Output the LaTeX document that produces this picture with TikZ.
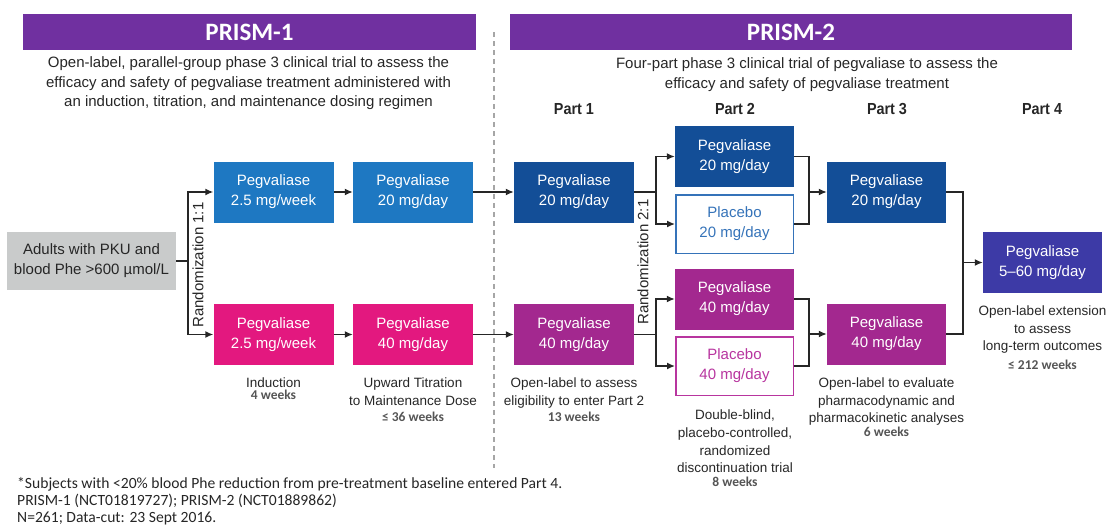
\documentclass[tikz,border=0pt]{standalone}
\usepackage{fontspec}
\setmainfont{Liberation Sans}
\newfontfamily\calfont{Carlito}
\newfontfamily\partfont{Liberation Sans}[FakeStretch=0.9]
\usetikzlibrary{arrows.meta}
\definecolor{hdr}{HTML}{7030A0}
\definecolor{bluea}{HTML}{1E78C2}
\definecolor{blued}{HTML}{134E97}
\definecolor{pinka}{HTML}{E3187F}
\definecolor{purpm}{HTML}{A3288F}
\definecolor{indig}{HTML}{3D3AA6}
\definecolor{grayb}{HTML}{C9CBCB}
\definecolor{txt}{HTML}{262626}
\definecolor{wk}{HTML}{555555}
\definecolor{plb}{HTML}{3573B9}
\definecolor{plm}{HTML}{B8359F}
\definecolor{dashc}{HTML}{A6A6A6}
\begin{document}
\begin{tikzpicture}[x=1pt,y=-1pt,
  box/.style={minimum width=120pt,minimum height=61pt,inner sep=0pt,align=center,text=white,font=\fontsize{15}{20}\selectfont},
  hdrbar/.style={fill=hdr,minimum height=36pt,inner sep=0pt,text=white,font=\calfont\bfseries\fontsize{25}{30}\selectfont},
  lbl/.style={align=center,text=txt,inner sep=0pt,font=\fontsize{13.5}{18}\selectfont,anchor=north},
  wks/.style={text=wk,inner sep=0pt,font=\calfont\bfseries\fontsize{13.5}{15}\selectfont},
  part/.style={text=txt,inner sep=0pt,font=\partfont\bfseries\fontsize{16}{18}\selectfont},
  desc/.style={align=center,text=txt,inner sep=0pt,font=\fontsize{15}{19.5}\selectfont,anchor=north},
  conn/.style={line width=1.4pt,draw=txt},
  arr/.style={conn,-{Latex[length=8pt,width=7pt]}},
  rnd/.style={rotate=90,text=txt,inner sep=0pt,font=\fontsize{15}{18}\selectfont},
  fn/.style={anchor=base west,inner sep=0pt,text=txt,font=\calfont\fontsize{15.6}{17}\selectfont}
]
\useasboundingbox (0,0) rectangle (1107,525);
% headers
\node[hdrbar,minimum width=453pt] (h1) at (249.5,32) {PRISM-1};
\node[hdrbar,minimum width=562pt] (h2) at (791,32) {PRISM-2};
\node[desc] (d1txt) at (248.5,56.5) {Open-label, parallel-group phase 3 clinical trial to assess the\\efficacy and safety of pegvaliase treatment administered with\\an induction, titration, and maintenance dosing regimen};
\node[desc] (d2txt) at (807,57.5) {Four-part phase 3 clinical trial of pegvaliase to assess the\\efficacy and safety of pegvaliase treatment};
% dashed divider
\coordinate (dv1) at (494,32);
\coordinate (dv2) at (494,468);
\draw[dashc,line width=1.2pt,dash pattern=on 5pt off 4pt] (dv1) -- (dv2);
% part labels
\node[part] (pt1) at (574,109) {Part 1};
\node[part] (pt2) at (735,109) {Part 2};
\node[part] (pt3) at (887,109) {Part 3};
\node[part] (pt4) at (1042,109) {Part 4};
% boxes
\node[box,fill=grayb,text=txt,minimum width=169pt,minimum height=58pt] (adults) at (91.5,261) {Adults with PKU and\\blood Phe >600 µmol/L};
\node[box,fill=bluea] (b1) at (273.5,192) {Pegvaliase\\2.5 mg/week};
\node[box,fill=pinka] (p1) at (273.5,334.5) {Pegvaliase\\2.5 mg/week};
\node[box,fill=bluea] (b2) at (413,192) {Pegvaliase\\20 mg/day};
\node[box,fill=pinka] (p2) at (413,334.5) {Pegvaliase\\40 mg/day};
\node[box,fill=blued] (c1) at (574,192) {Pegvaliase\\20 mg/day};
\node[box,fill=purpm] (m1) at (574,334.5) {Pegvaliase\\40 mg/day};
\node[box,fill=blued,minimum width=119pt] (c2) at (734.5,156.5) {Pegvaliase\\20 mg/day};
\node[box,fill=white,draw=plb,line width=1.5pt,text=plb,minimum width=117.5pt,minimum height=58.5pt] (pl20) at (734.5,224) {Placebo\\20 mg/day};
\node[box,fill=purpm,minimum width=119pt] (m2) at (734.5,299) {Pegvaliase\\40 mg/day};
\node[box,fill=white,draw=plm,line width=1.5pt,text=plm,minimum width=117.5pt,minimum height=58.5pt] (pl40) at (734.5,366) {Placebo\\40 mg/day};
\node[box,fill=blued,minimum width=119pt] (c3) at (886.5,192) {Pegvaliase\\20 mg/day};
\node[box,fill=purpm,minimum width=119pt] (m3) at (886.5,334) {Pegvaliase\\40 mg/day};
\node[box,fill=indig,minimum width=119pt] (p4) at (1042.5,262.5) {Pegvaliase\\5–60 mg/day};
% randomization labels
\node[rnd] (r1) at (198,265) {Randomization 1:1};
\node[rnd] (r2) at (643,262) {Randomization 2:1};
% connectors
\coordinate (j1) at (188,261);
\draw[conn] (adults.east) -- (j1);
\draw[arr] (j1) |- (b1.west);
\draw[arr] (j1) |- (p1.west);
\draw[arr] (b1) -- (b2);
\draw[arr] (p1) -- (p2);
\draw[arr] (b2) -- (c1);
\draw[arr] (p2) -- (m1);
\coordinate (j2) at (656,192);
\coordinate (j3) at (656,334.5);
\draw[conn] (c1.east) -- (j2);
\draw[arr] (j2) |- (c2.west);
\draw[arr] (j2) |- (pl20.west);
\draw[conn] (m1.east) -- (j3);
\draw[arr] (j3) |- (m2.west);
\draw[arr] (j3) |- (pl40.west);
\coordinate (k1) at (809,192);
\coordinate (k2) at (809,334);
\draw[conn] (c2.east) -| (k1);
\draw[conn] (pl20.east) -| (k1);
\draw[arr] (k1) -- (c3.west);
\draw[conn] (m2.east) -| (k2);
\draw[conn] (pl40.east) -| (k2);
\draw[arr] (k2) -- (m3.west);
\coordinate (k3) at (963,262.5);
\draw[conn] (c3.east) -| (k3);
\draw[conn] (m3.east) -| (k3);
\draw[arr] (k3) -- (p4.west);
% phase labels
\node[lbl] (l1) at (273.5,378) {Induction};
\node[wks] (w1) at (273.5,395) {4 weeks};
\node[lbl] (l2) at (413,378) {Upward Titration\\to Maintenance Dose};
\node[wks] (w2) at (413,417) {≤ 36 weeks};
\node[lbl] (l3) at (574,378) {Open-label to assess\\eligibility to enter Part 2};
\node[wks] (w3) at (574,417) {13 weeks};
\node[lbl,font=\fontsize{13.5}{17.6}\selectfont] (l4) at (735,410) {Double-blind,\\placebo-controlled,\\randomized\\discontinuation trial};
\node[wks] (w4) at (735,482) {8 weeks};
\node[lbl,font=\fontsize{13.5}{17.5}\selectfont] (l5) at (886.5,378) {Open-label to evaluate\\pharmacodynamic and\\pharmacokinetic analyses};
\node[wks] (w5) at (886.5,432) {6 weeks};
\node[lbl,font=\fontsize{13.5}{17.5}\selectfont] (l6) at (1042.5,306) {Open-label extension\\to assess\\long-term outcomes};
\node[wks] (w6) at (1042.5,365) {≤ 212 weeks};
% footnotes
\node[fn] (f1) at (17,488) {*Subjects with <20\% blood Phe reduction from pre-treatment baseline entered Part 4.};
\node[fn] (f2) at (17,505) {PRISM-1 (NCT01819727); PRISM-2 (NCT01889862)};
\node[fn] (f3) at (17,522) {N=261; Data-cut: 23 Sept 2016.};
\end{tikzpicture}
\end{document}
